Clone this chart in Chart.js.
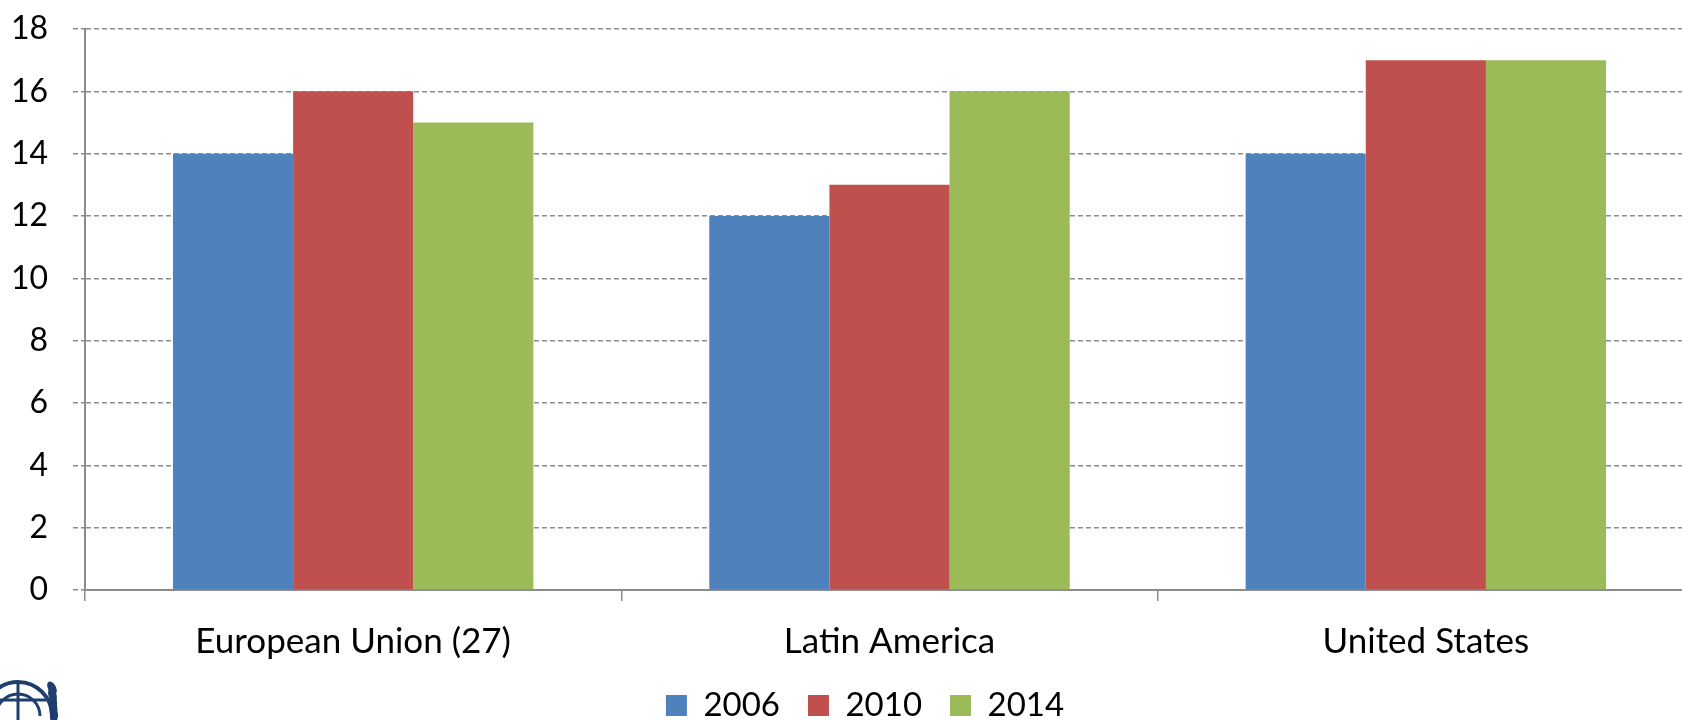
<!DOCTYPE html>
<html>
<head>
<meta charset="utf-8">
<script src="https://cdn.jsdelivr.net/npm/chart.js@4/dist/chart.umd.min.js"></script>
<style>
  html, body { margin: 0; padding: 0; background: #fff; overflow: hidden; }
  #wrap { width: 1694px; height: 720px; }
</style>
</head>
<body>
<div id="wrap"><canvas id="regionchart"></canvas></div>
<script>
var regions = ['European Union (27)', 'Latin America', 'United States'];
var values2006 = [14, 12, 14];
var values2010 = [16, 13, 17];
var values2014 = [15, 16, 17];
var yTicks = [0, 2, 4, 6, 8, 10, 12, 14, 16, 18];

Chart.defaults.font.family = 'Lato, "Open Sans", sans-serif';
Chart.defaults.color = '#000';

// nudge the legend a bit to the right, like the original slide
var legendShift = {
    id: 'legendShift',
    afterLayout: function (chart) {
        if (chart.legend) {
            chart.legend.left += 18;
            chart.legend.right += 18;
        }
    }
};

// rough emblem in the bottom left corner
var emblem = {
    id: 'emblem',
    afterDraw: function (chart) {
        var c = chart.ctx;
        c.save();
        c.strokeStyle = '#1f3e70';
        c.fillStyle = '#1f3e70';
        c.lineWidth = 4;
        c.beginPath();
        c.arc(18, 716, 34, Math.PI, 2 * Math.PI);
        c.stroke();
        c.lineWidth = 3;
        c.beginPath();
        c.arc(18, 716, 22, Math.PI, 2 * Math.PI);
        c.stroke();
        c.beginPath();
        c.moveTo(18, 682); c.lineTo(18, 720);
        c.moveTo(-10, 700); c.lineTo(46, 700);
        c.stroke();
        for (var i = 0; i < 5; i++) {
            c.beginPath();
            c.ellipse(52 + i * 0.5, 688 + i * 7, 4, 7, -0.5 + i * 0.15, 0, 2 * Math.PI);
            c.fill();
        }
        c.restore();
    }
};

var ctx = document.getElementById('regionchart').getContext('2d');
var regionchart = new Chart(ctx, {
    type: 'bar',
    data: {
        labels: regions,
        datasets: [
            { label: '2006', data: values2006, backgroundColor: '#4F81BD' },
            { label: '2010', data: values2010, backgroundColor: '#C0504D' },
            { label: '2014', data: values2014, backgroundColor: '#9BBB59' }
        ]
    },
    options: {
        responsive: true,
        maintainAspectRatio: false,
        animation: false,
        layout: { padding: { left: 0, top: 29, right: 0, bottom: -12 } },
        datasets: {
            bar: { categoryPercentage: 0.672, barPercentage: 1.0 }
        },
        scales: {
            x: {
                afterFit: function (scale) { scale.height = 71; },
                grid: {
                    offset: true,
                    drawOnChartArea: false,
                    drawTicks: true,
                    tickLength: 11,
                    color: '#8c8c8c',
                    lineWidth: 1.5
                },
                border: { color: '#8c8c8c', width: 2 },
                ticks: { font: { size: 35 }, padding: 20 }
            },
            y: {
                min: 0,
                max: 18,
                afterBuildTicks: function (axis) {
                    axis.ticks = yTicks.map(function (v) { return { value: v }; });
                },
                afterFit: function (scale) {
                    scale.width = 85;
                    scale.paddingTop = 0;
                    scale.paddingBottom = 0;
                },
                grid: {
                    color: '#8c8c8c',
                    lineWidth: 1.5,
                    tickLength: 12,
                    tickBorderDash: [5, 3],
                    tickColor: '#8c8c8c'
                },
                border: { color: '#8c8c8c', width: 2, dash: [5, 3] },
                ticks: { font: { size: 32 }, padding: 25 }
            }
        },
        plugins: {
            legend: {
                position: 'bottom',
                labels: {
                    font: { size: 33 },
                    boxWidth: 21,
                    boxHeight: 21,
                    padding: 28
                }
            },
            tooltip: { enabled: false }
        }
    },
    plugins: [legendShift, emblem]
});
</script>
</body>
</html>
